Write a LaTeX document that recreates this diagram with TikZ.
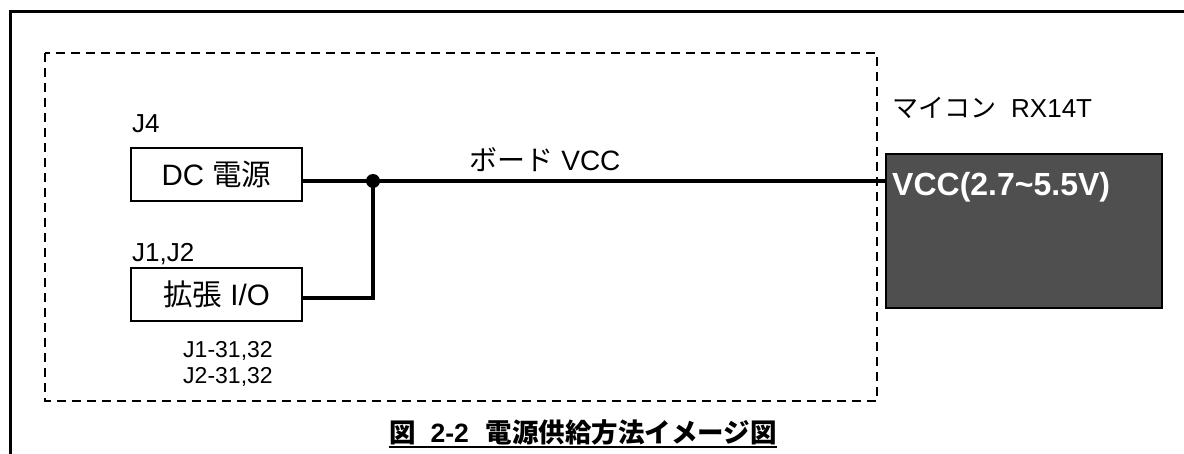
\documentclass[tikz,border=0pt]{standalone}
\usepackage{fontspec}
\setmainfont{Liberation Sans}
\newfontfamily\jp{Noto Sans CJK JP}
\definecolor{chipfill}{HTML}{4F4F4F}
\begin{document}
\begin{tikzpicture}[x=1pt,y=-1pt,
  frame/.style={line width=2.6pt},
  dashbox/.style={line width=1.8pt, dash pattern=on 9pt off 6pt},
  blk/.style={draw, line width=2pt, minimum width=171pt, minimum height=53pt, inner sep=0pt, font=\fontsize{29.5}{32}\selectfont},
  wire/.style={line width=3.5pt},
  lbl/.style={inner sep=0pt, font=\fontsize{26}{29}\selectfont},
  pinlbl/.style={inner sep=0pt, font=\fontsize{23}{29}\selectfont},
  dot/.style={circle, fill=black, inner sep=0pt, minimum size=14pt},
  chip/.style={draw, line width=2pt, fill=chipfill, inner sep=0pt},
]
\useasboundingbox (0,0) rectangle (1184,454);
% outer frame
\coordinate (fa) at (10.5,460);
\coordinate (fb) at (10.5,11.5);
\coordinate (fc) at (1190,11.5);
\draw[frame] (fa) -- (fb) -- (fc);
% dashed board outline
\coordinate (da) at (45,53);
\coordinate (db) at (877,401);
\draw[dashbox] (da) rectangle (db);
% blocks
\node[blk] (dc) at (216.5,174.5) {DC {\jp 電源}};
\node[blk] (io) at (216.5,294.5) {{\jp 拡張} I/O};
\node[lbl, anchor=base west] (j4) at (132,133) {J4};
\node[lbl, anchor=base west] (j12) at (132,262) {J1,J2};
\node[pinlbl, anchor=base] (pin1) at (228,358) {J1-31,32};
\node[pinlbl, anchor=base] (pin2) at (228,384) {J2-31,32};
% junction
\node[dot] (j) at (373,181) {};
% chip
\node[chip, anchor=north west, minimum width=276pt, minimum height=154pt] (mcu) at (885,153) {};
\node[inner sep=0pt, anchor=west, text=white, font=\fontsize{32}{34}\selectfont\bfseries] (vcc) at (892,187) {VCC(2.7\textasciitilde5.5V)};
\node[inner sep=0pt, anchor=west, font=\fontsize{26}{30}\selectfont] (mcul) at (892,108) {{\jp マイコン}\hspace{15pt}RX14T};
% wires
\draw[wire] (dc.east |- j) -- (j.center) -- (mcu.west |- j);
\draw[wire] ([yshift=-3.5pt]io.east) -| (j.center);
\node[inner sep=0pt, font=\fontsize{28}{30}\selectfont] (bvcc) at (545,160) {{\jp ボード} VCC};
% caption
\node[inner sep=0pt, font=\fontsize{26.5}{30}\selectfont\bfseries] (cap) at (583,432) {{\jp 図}\hspace{15pt}2-2\hspace{17pt}{\jp 電源供給方法イメージ図}};
\draw[line width=2pt] ([yshift=-15pt]cap.west) coordinate (ul1) -- ([yshift=-15pt]cap.east) coordinate (ul2);
\end{tikzpicture}
\end{document}
